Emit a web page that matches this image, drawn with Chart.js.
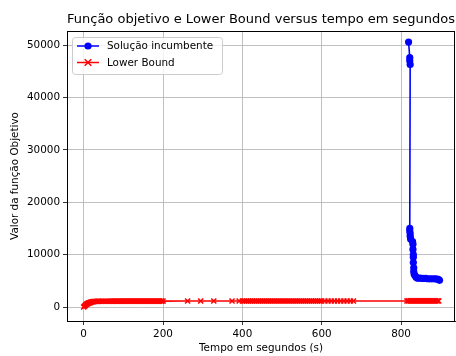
<!DOCTYPE html>
<html>
<head>
<meta charset="utf-8">
<script src="https://cdn.jsdelivr.net/npm/chart.js@4.4.0/dist/chart.umd.min.js"></script>
<style>
  html, body { margin: 0; padding: 0; background: #fff; overflow: hidden; }
  #wrap { width: 456px; height: 356px; position: relative; }
  #grafico { display: block; }
</style>
</head>
<body>
<div id="wrap"><canvas id="grafico"></canvas></div>
<script>
// Solução incumbente (tempo em s, valor)
var incTime = [819, 822, 822, 823, 822, 822, 823, 823, 824, 829, 830, 830, 831, 831, 831, 832, 832, 833, 835, 838, 842, 848, 855, 862, 868, 874, 880, 886, 890, 894, 897];
var incValue = [50600, 47600, 47000, 46300, 15000, 14500, 14000, 13500, 13000, 12500, 12000, 11000, 10000, 9500, 8500, 7500, 6800, 6300, 6000, 5700, 5500, 5500, 5450, 5450, 5400, 5400, 5400, 5400, 5350, 5300, 5100];

// Lower Bound (tempo em s, valor)
var lbTime = [0, 2, 4, 6, 8, 10, 12, 14, 16, 18, 20, 22,
  25, 28, 31, 34, 37, 40,
  44, 48, 52, 56, 60, 64, 68, 72, 76, 80, 84, 88, 92, 96,
  100, 104, 108, 112, 116, 120, 124, 128, 132, 136, 140, 144, 148,
  152, 156, 160, 164, 168, 172, 176, 180, 184, 188, 192, 196, 200,
  262, 295, 328, 374, 392,
  400, 405, 410, 415, 420, 425, 430, 435, 440, 445, 450, 455, 460, 465, 470, 475, 480, 485, 490, 495,
  500, 505, 510, 515, 520, 525, 530, 535, 540, 545, 550, 555, 560, 565, 570, 575, 580, 585, 590, 595,
  600, 608, 616, 624, 632, 640, 648, 656, 664, 672, 680,
  815, 819, 823, 827, 831, 835, 839, 843, 847, 851, 855, 859, 863, 867, 871, 875, 879, 883, 887, 891, 895];
var lbValue = [0, 150, 300, 450, 550, 650, 750, 800, 850, 900, 950, 1000,
  1020, 1050, 1070, 1080, 1100, 1100,
  1100, 1100, 1110, 1110, 1110, 1110, 1120, 1120, 1120, 1120, 1120, 1120, 1120, 1120,
  1130, 1130, 1130, 1130, 1130, 1130, 1130, 1130, 1130, 1130, 1130, 1130, 1130,
  1130, 1130, 1130, 1130, 1130, 1130, 1130, 1130, 1130, 1130, 1130, 1130, 1130,
  1140, 1140, 1140, 1140, 1140,
  1150, 1150, 1150, 1150, 1150, 1150, 1150, 1150, 1150, 1150, 1150, 1150, 1150, 1150, 1150, 1150, 1150, 1150, 1150, 1150,
  1150, 1150, 1150, 1150, 1150, 1150, 1150, 1150, 1150, 1150, 1150, 1150, 1150, 1150, 1150, 1150, 1150, 1150, 1150, 1150,
  1150, 1150, 1150, 1150, 1150, 1150, 1150, 1150, 1150, 1150, 1150,
  1160, 1160, 1160, 1160, 1160, 1160, 1160, 1160, 1160, 1160, 1160, 1160, 1160, 1160, 1160, 1160, 1160, 1160, 1160, 1160, 1160];

var xTicks = [0, 200, 400, 600, 800];
var yTicks = [0, 10000, 20000, 30000, 40000, 50000];

var FONT = "'DejaVu Sans', sans-serif";

function pares(xs, ys) {
    var out = [];
    for (var i = 0; i < xs.length; i++) out.push({x: xs[i], y: ys[i]});
    return out;
}

// moldura, titulos e legenda no estilo matplotlib
var extras = {
    id: 'extras',
    afterDraw: function (chart) {
        var ctx = chart.ctx, a = chart.chartArea;
        ctx.save();
        ctx.strokeStyle = '#000';
        ctx.lineWidth = 1;
        ctx.strokeRect(Math.round(a.left) + 0.5, Math.round(a.top) + 0.5,
            Math.round(a.right - a.left) - 1, Math.round(a.bottom - a.top));

        ctx.fillStyle = '#000';
        ctx.textAlign = 'center';
        ctx.textBaseline = 'middle';
        ctx.font = '13px ' + FONT;
        ctx.fillText('Função objetivo e Lower Bound versus tempo em segundos', (a.left + a.right) / 2, 20);
        ctx.font = '10.4px ' + FONT;
        ctx.fillText('Tempo em segundos (s)', (a.left + a.right) / 2, 348);
        ctx.save();
        ctx.translate(15, (a.top + a.bottom) / 2);
        ctx.rotate(-Math.PI / 2);
        ctx.fillText('Valor da função Objetivo', 0, 0);
        ctx.restore();

        // legenda
        var bx = a.left + 5, by = a.top + 6, bw = 150, bh = 37;
        ctx.fillStyle = 'rgba(255,255,255,0.8)';
        ctx.strokeStyle = '#cccccc';
        ctx.beginPath();
        ctx.roundRect(bx + 0.5, by + 0.5, bw, bh, 3);
        ctx.fill();
        ctx.stroke();
        var itens = [
            {txt: 'Solução incumbente', cor: '#0000ff', mk: 'circle', y: by + 9},
            {txt: 'Lower Bound', cor: '#ff0000', mk: 'x', y: by + 25.5}
        ];
        itens.forEach(function (it) {
            ctx.strokeStyle = it.cor;
            ctx.fillStyle = it.cor;
            ctx.lineWidth = 1.5;
            ctx.beginPath();
            ctx.moveTo(bx + 5, it.y);
            ctx.lineTo(bx + 27, it.y);
            ctx.stroke();
            var cx = bx + 16;
            ctx.beginPath();
            if (it.mk === 'circle') {
                ctx.arc(cx, it.y, 3.6, 0, Math.PI * 2);
                ctx.fill();
            } else {
                ctx.moveTo(cx - 3.3, it.y - 3.3); ctx.lineTo(cx + 3.3, it.y + 3.3);
                ctx.moveTo(cx - 3.3, it.y + 3.3); ctx.lineTo(cx + 3.3, it.y - 3.3);
                ctx.stroke();
            }
            ctx.fillStyle = '#000';
            ctx.textAlign = 'left';
            ctx.font = '10.4px ' + FONT;
            ctx.fillText(it.txt, bx + 35, it.y + 0.5);
        });
        ctx.restore();
    }
};

var canvas = document.getElementById('grafico').getContext('2d');
var chart = new Chart(canvas, {
    type: 'scatter',
    data: {
        datasets: [{
                label: 'Solução incumbente',
                data: pares(incTime, incValue),
                showLine: true,
                borderColor: '#0000ff',
                backgroundColor: '#0000ff',
                borderWidth: 1.6,
                pointStyle: 'circle',
                pointRadius: 3.6,
                pointBorderWidth: 0
            },
            {
                label: 'Lower Bound',
                data: pares(lbTime, lbValue),
                showLine: true,
                borderColor: '#ff0000',
                backgroundColor: '#ff0000',
                borderWidth: 1.6,
                pointStyle: 'crossRot',
                pointRadius: 3.6,
                pointBorderWidth: 1.5
            }
        ]
    },
    options: {
        responsive: true,
        maintainAspectRatio: false,
        animation: false,
        layout: { autoPadding: false, padding: { top: 31, right: 1, left: 0, bottom: 0 } },
        plugins: {
            legend: { display: false },
            title: { display: false },
            tooltip: { enabled: false }
        },
        scales: {
            x: {
                type: 'linear',
                min: -42,
                max: 936,
                afterBuildTicks: function (s) { s.ticks = xTicks.map(function (v) { return {value: v}; }); },
                afterFit: function (s) { s.height = 35; s.paddingLeft = 0; s.paddingRight = 0; },
                grid: { color: '#b0b0b0', lineWidth: 0.8, tickColor: '#000', tickLength: 4 },
                border: { display: true, color: '#000' },
                ticks: { color: '#000', font: { family: FONT, size: 10.4 }, padding: 3, maxRotation: 0 }
            },
            y: {
                type: 'linear',
                min: -2670,
                max: 52700,
                afterBuildTicks: function (s) { s.ticks = yTicks.map(function (v) { return {value: v}; }); },
                afterFit: function (s) { s.width = 67; s.paddingTop = 0; s.paddingBottom = 0; },
                grid: { color: '#b0b0b0', lineWidth: 0.8, tickColor: '#000', tickLength: 4 },
                border: { display: true, color: '#000' },
                ticks: { color: '#000', font: { family: FONT, size: 10.4 }, padding: 3,
                    callback: function (v) { return String(v); } }
            }
        }
    },
    plugins: [extras]
});
</script>
</body>
</html>
